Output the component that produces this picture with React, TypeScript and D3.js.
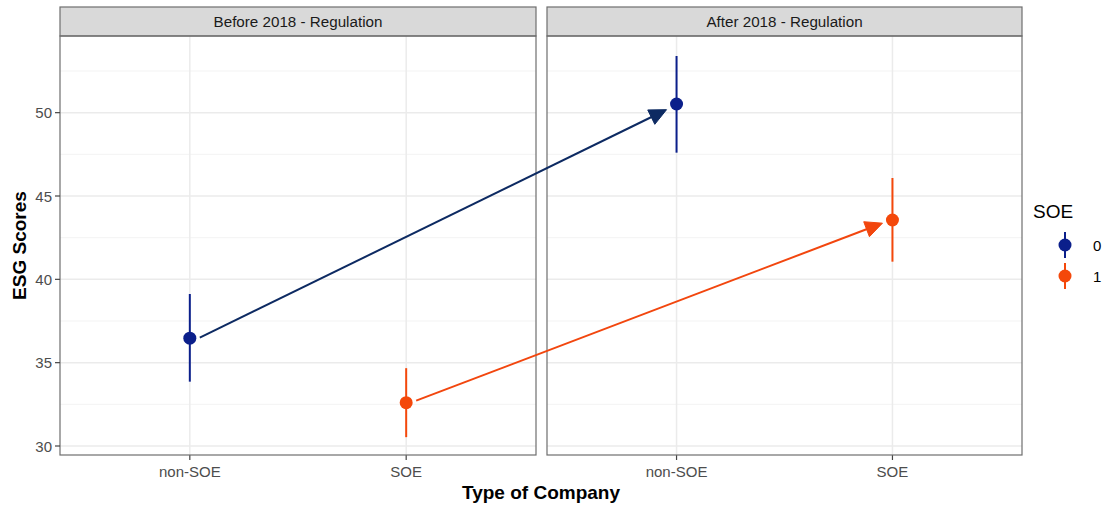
import React from "react";
import * as d3 from "d3";

// Facet panels and company types
const periods = ["Before 2018 - Regulation", "After 2018 - Regulation"];
const companyTypes = ["non-SOE", "SOE"];
const soeGroups = ["0", "1"];

// Estimated ESG scores with confidence intervals, one row per period/company type
const estPeriod = [0, 0, 1, 1];
const estType = ["non-SOE", "SOE", "non-SOE", "SOE"];
const estGroup = ["0", "1", "0", "1"];
const estMean = [36.47, 32.6, 50.52, 43.56];
const estLow = [33.86, 30.53, 47.6, 41.06];
const estHigh = [39.12, 34.67, 53.4, 46.08];

// Change arrows: from the pre-regulation score to the post-regulation score
const arrowGroup = ["0", "1"];
const arrowType = ["non-SOE", "SOE"];
const arrowFrom = [36.5, 32.72];
const arrowTo = [50.18, 43.37];

const yTicks = [30, 35, 40, 45, 50];
const yMinor = [32.5, 37.5, 42.5, 47.5, 52.5];

const W = 1111;
const H = 506;
const FONT = "'Liberation Sans', Arial, Helvetica, sans-serif";

const pointColor: Record<string, string> = { "0": "#0B1F8B", "1": "#F4480B" };
const arrowColor: Record<string, string> = { "0": "#0D2A62", "1": "#F2460E" };

const panelX: [number, number][] = [
  [60, 536],
  [547, 1022],
];
const stripTop = 7;
const panelTop = 36;
const panelBottom = 455;

export default function App() {
  const y = d3.scaleLinear().domain([29.46, 54.6]).range([panelBottom, panelTop]);
  const xs = panelX.map(([a, b]) =>
    d3.scalePoint<string>().domain(companyTypes).range([a, b]).padding(0.6)
  );

  const arrowInset = 10;
  const headLen = 17;
  const headHalf = 8;

  return (
    <svg
      width={W}
      height={H}
      style={{ position: "absolute", left: 0, top: 0, background: "#fff" }}
      fontFamily={FONT}
    >
      {periods.map((label, p) => {
        const [x0, x1] = panelX[p];
        const x = xs[p];
        return (
          <g key={label}>
            <rect x={x0} y={panelTop} width={x1 - x0} height={panelBottom - panelTop} fill="#fff" />
            {yMinor.map((t) => (
              <line key={"m" + t} x1={x0} x2={x1} y1={y(t)} y2={y(t)} stroke="#F2F2F2" strokeWidth={0.9} />
            ))}
            {yTicks.map((t) => (
              <line key={"g" + t} x1={x0} x2={x1} y1={y(t)} y2={y(t)} stroke="#EBEBEB" strokeWidth={1.5} />
            ))}
            {companyTypes.map((c) => (
              <line key={"v" + c} x1={x(c)!} x2={x(c)!} y1={panelTop} y2={panelBottom} stroke="#EBEBEB" strokeWidth={1.5} />
            ))}
            {/* strip */}
            <rect x={x0} y={stripTop} width={x1 - x0} height={panelTop - stripTop} fill="#D9D9D9" stroke="#6E6E6E" strokeWidth={1.2} />
            <text x={(x0 + x1) / 2} y={(stripTop + panelTop) / 2} textAnchor="middle" dominantBaseline="central" fontSize={15.2} fill="#1A1A1A">
              {label}
            </text>
            {/* x ticks */}
            {companyTypes.map((c) => (
              <g key={"t" + c}>
                <line x1={x(c)!} x2={x(c)!} y1={panelBottom} y2={panelBottom + 5} stroke="#444" strokeWidth={1.2} />
                <text x={x(c)!} y={477} textAnchor="middle" fontSize={15} fill="#4D4D4D">
                  {c}
                </text>
              </g>
            ))}
            {/* estimates */}
            {estMean.map((m, i) =>
              estPeriod[i] === p ? (
                <g key={"e" + i}>
                  <line
                    x1={x(estType[i])!}
                    x2={x(estType[i])!}
                    y1={y(estLow[i])}
                    y2={y(estHigh[i])}
                    stroke={pointColor[estGroup[i]]}
                    strokeWidth={2}
                  />
                  <circle cx={x(estType[i])!} cy={y(m)} r={6.5} fill={pointColor[estGroup[i]]} />
                </g>
              ) : null
            )}
            <rect x={x0} y={panelTop} width={x1 - x0} height={panelBottom - panelTop} fill="none" stroke="#6E6E6E" strokeWidth={1.2} />
          </g>
        );
      })}

      {/* y axis on the first panel */}
      {yTicks.map((t) => (
        <g key={"yt" + t}>
          <line x1={55} x2={60} y1={y(t)} y2={y(t)} stroke="#444" strokeWidth={1.2} />
          <text x={52} y={y(t)} textAnchor="end" dominantBaseline="central" fontSize={15} fill="#4D4D4D">
            {t}
          </text>
        </g>
      ))}

      {/* arrows spanning the two panels */}
      {arrowFrom.map((v, i) => {
        const sx = xs[0](arrowType[i])! + arrowInset;
        const sy = y(v);
        const ex = xs[1](arrowType[i])! - arrowInset;
        const ey = y(arrowTo[i]);
        const ang = Math.atan2(ey - sy, ex - sx);
        const bx = ex - headLen * Math.cos(ang);
        const by = ey - headLen * Math.sin(ang);
        const px = -Math.sin(ang) * headHalf;
        const py = Math.cos(ang) * headHalf;
        const col = arrowColor[arrowGroup[i]];
        return (
          <g key={"a" + i}>
            <line x1={sx} y1={sy} x2={bx + 2 * Math.cos(ang)} y2={by + 2 * Math.sin(ang)} stroke={col} strokeWidth={2} />
            <path d={`M${ex},${ey}L${bx + px},${by + py}L${bx - px},${by - py}Z`} fill={col} stroke={col} strokeWidth={1} strokeLinejoin="miter" />
          </g>
        );
      })}

      {/* axis titles */}
      <text x={541} y={498.5} textAnchor="middle" fontSize={19} fontWeight="bold" fill="#000">
        Type of Company
      </text>
      <text transform={`translate(25.5,${(panelTop + panelBottom) / 2}) rotate(-90)`} textAnchor="middle" fontSize={19} fontWeight="bold" fill="#000">
        ESG Scores
      </text>

      {/* legend */}
      <text x={1033} y={218} fontSize={19} fill="#000">
        SOE
      </text>
      {soeGroups.map((g, i) => {
        const cy = 245 + i * 31;
        return (
          <g key={"l" + g}>
            <line x1={1065} x2={1065} y1={cy - 13} y2={cy + 13} stroke={pointColor[g]} strokeWidth={2} />
            <circle cx={1065} cy={cy} r={6.5} fill={pointColor[g]} />
            <text x={1093} y={cy} dominantBaseline="central" fontSize={15} fill="#000">
              {g}
            </text>
          </g>
        );
      })}
    </svg>
  );
}
